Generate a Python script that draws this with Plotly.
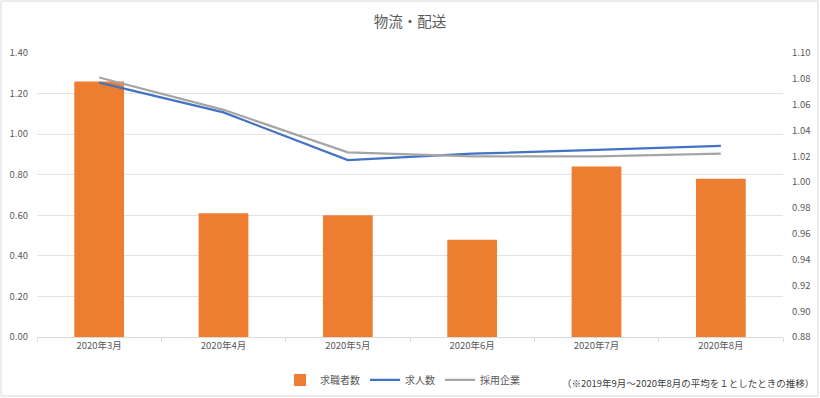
import plotly.graph_objects as go

categories = ["2020年3月", "2020年4月", "2020年5月", "2020年6月", "2020年7月", "2020年8月"]
job_seekers = [1.26, 0.61, 0.60, 0.48, 0.84, 0.78]
job_openings = [1.077, 1.054, 1.017, 1.022, 1.025, 1.028]
hiring_companies = [1.081, 1.056, 1.023, 1.020, 1.020, 1.022]

left_ticks = [0.0, 0.2, 0.4, 0.6, 0.8, 1.0, 1.2, 1.4]
right_ticks = [0.88, 0.90, 0.92, 0.94, 0.96, 0.98, 1.00, 1.02, 1.04, 1.06, 1.08, 1.10]

FONT = "Noto Sans CJK JP, Noto Sans, sans-serif"
GRAY = "#595959"

fig = go.Figure()
fig.add_trace(go.Bar(x=categories, y=job_seekers, name="求職者数",
                     marker=dict(color="#ED7D31", line=dict(width=0)), yaxis="y"))
fig.add_trace(go.Scatter(x=categories, y=job_openings, name="求人数", mode="lines",
                         line=dict(color="#4472C4", width=2.25), yaxis="y2"))
fig.add_trace(go.Scatter(x=categories, y=hiring_companies, name="採用企業", mode="lines",
                         line=dict(color="#A5A5A5", width=2.25), yaxis="y2"))

fig.update_layout(
    width=820, height=398,
    margin=dict(l=37, r=37, t=53, b=61, autoexpand=False),
    paper_bgcolor="white", plot_bgcolor="white",
    font=dict(family=FONT, color=GRAY, size=10),
    title=dict(text="物流・配送", x=0.5, xanchor="center", y=1 - 22 / 398, yanchor="middle",
               font=dict(size=14.5, color=GRAY, family=FONT)),
    bargap=0.6,
    xaxis=dict(type="category", showgrid=False, showline=True, linecolor="#d9d9d9",
               ticks="outside", tickson="boundaries", ticklen=4, tickcolor="#d9d9d9",
               tickfont=dict(size=9.5, color=GRAY)),
    yaxis=dict(range=[0, 1.4], tickvals=left_ticks, tickformat=".2f",
               showgrid=True, gridcolor="#e3e3e3", gridwidth=1, zeroline=False,
               showline=False, tickfont=dict(size=9.5, color=GRAY), ticks="", ticklabelstandoff=8),
    yaxis2=dict(range=[0.88, 1.10], tickvals=right_ticks, tickformat=".2f", overlaying="y",
                side="right", showgrid=False, zeroline=False, showline=False,
                tickfont=dict(size=9.5, color=GRAY), ticks="", ticklabelstandoff=8),
    legend=dict(orientation="h", x=0.49, xanchor="center", y=-0.151, yanchor="middle",
                font=dict(size=10, color=GRAY), itemwidth=30, traceorder="normal"),
    showlegend=True,
)

fig.add_annotation(text="（※2019年9月～2020年8月の平均を１としたときの推移）", xref="paper", yref="paper",
                   x=(816 - 37) / 746, y=(337 - 383) / 284, xanchor="right", yanchor="middle",
                   showarrow=False, font=dict(size=9.5, color="#404040", family=FONT))

fig.add_shape(type="rect", xref="paper", yref="paper",
              x0=(1 - 37) / 746, x1=(818 - 37) / 746, y0=(337 - 396) / 284, y1=(337 - 1) / 284,
              line=dict(color="#d9d9d9", width=1), fillcolor="rgba(0,0,0,0)", layer="below")

fig.write_html("out.html", config={"displayModeBar": False},
               post_script="document.body.style.margin='0';document.body.style.overflow='hidden';")
